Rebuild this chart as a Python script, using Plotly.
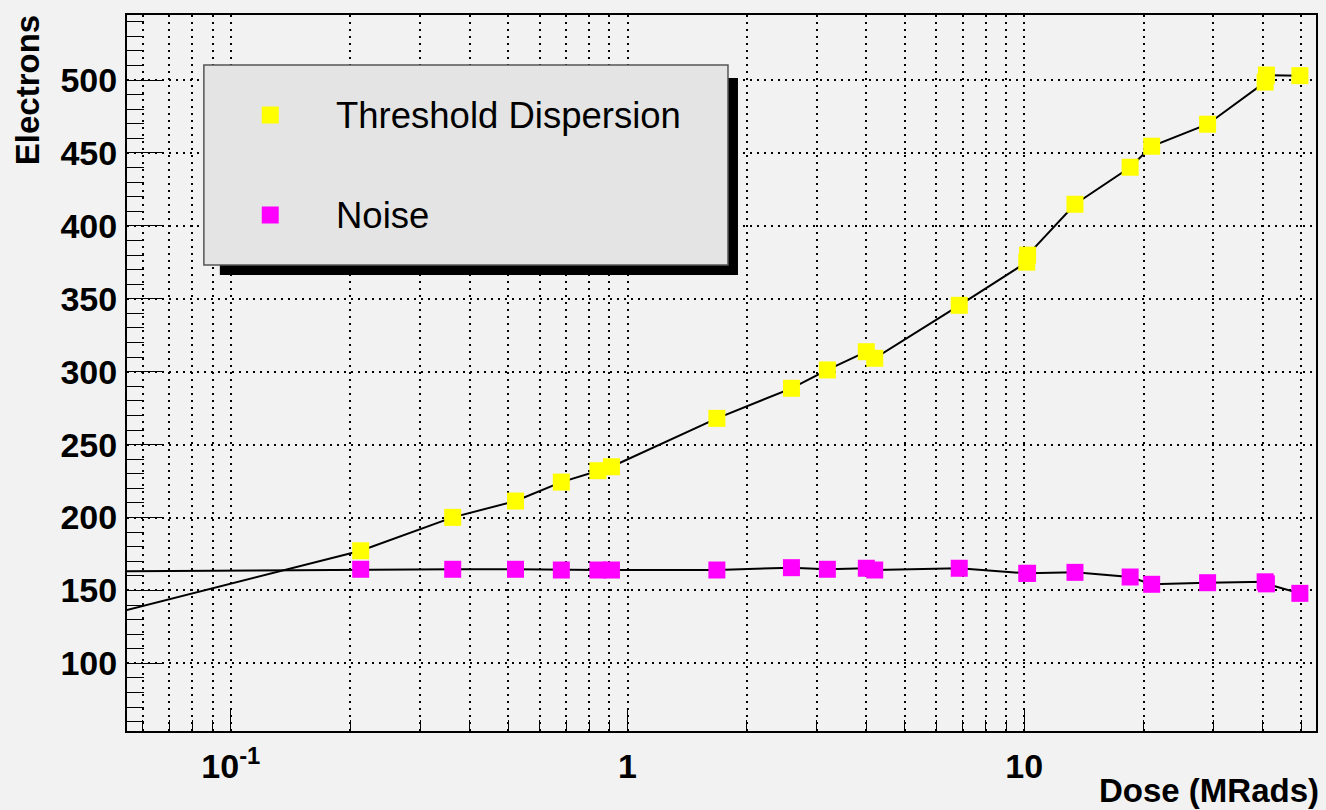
import plotly.graph_objects as go

# Irradiation campaign: dose steps (MRad) and measured values (electrons)
dose = [0.01, 0.2125, 0.3625, 0.522, 0.681, 0.842, 0.911, 1.68, 2.59, 3.19,
        4.0, 4.2, 6.86, 10.15, 10.2, 13.43, 18.5, 20.96, 29.0, 40.5, 40.8, 49.55]
threshold_dispersion = [85.6, 177.2, 200.1, 211.3, 224.3, 232.1, 234.8, 268.0, 288.6, 301.2,
                        313.7, 309.2, 345.5, 375.1, 379.9, 414.8, 440.2, 454.6, 469.7, 498.6, 503.4, 503.0]
noise = [161.8, 164.5, 164.5, 164.5, 164.0, 164.0, 164.0, 164.0, 165.6, 164.5,
         165.2, 164.0, 165.2, 161.7, 161.7, 162.4, 159.2, 154.2, 155.3, 155.9, 154.5, 148.0]

series_names = ["Threshold Dispersion", "Noise"]
series_colors = ["#ffff00", "#ff00ff"]

x_major = [0.1, 1, 10]
x_major_text = ["10<sup>-1</sup>", "1", "10"]
x_minor = [0.06, 0.07, 0.08, 0.09,
           0.2, 0.3, 0.4, 0.5, 0.6, 0.7, 0.8, 0.9,
           2, 3, 4, 5, 6, 7, 8, 9,
           20, 30, 40, 50]
y_major = [100, 150, 200, 250, 300, 350, 400, 450, 500]
y_minor = [v for v in range(60, 550, 10) if v not in y_major]

X_RANGE = [-1.2618, 1.7357]   # log10 of 0.0547 .. 54.4
Y_RANGE = [53.6, 544.6]

W, H = 1326, 810
L, R, T, B = 127, 8, 15, 79
PW, PH = W - L - R, H - T - B

BG = "#f2f2f2"
FONT = "Liberation Sans, Arial, Helvetica, sans-serif"


def fx(p):
    return (p - L) / PW


def fy(p):
    return (H - B - p) / PH


fig = go.Figure()
for name, vals, col in zip(series_names, [threshold_dispersion, noise], series_colors):
    fig.add_trace(go.Scatter(
        x=dose, y=vals, name=name, mode="lines+markers",
        line=dict(color="black", width=2),
        marker=dict(symbol="square", size=17, color=col, line=dict(width=0)),
        showlegend=False,
    ))

grid_dash = "2px,5px"
grid_w = 1.6

fig.update_xaxes(
    type="log", range=X_RANGE,
    tickmode="array", tickvals=x_major, ticktext=x_major_text,
    ticks="inside", ticklen=22, tickwidth=1.4, tickcolor="black",
    showgrid=True, gridcolor="black", gridwidth=grid_w, griddash=grid_dash,
    minor=dict(tickmode="array", tickvals=x_minor, ticks="inside", ticklen=11,
               tickwidth=1.4, tickcolor="black", showgrid=True,
               gridcolor="black", gridwidth=grid_w, griddash=grid_dash),
    showline=True, linecolor="black", linewidth=2, mirror=True,
    tickfont=dict(family=FONT, size=34, color="black", weight="bold"),
    ticklabelstandoff=4,
    zeroline=False,
)
fig.update_yaxes(
    range=Y_RANGE,
    tickmode="array", tickvals=y_major, ticktext=[str(v) for v in y_major],
    ticks="inside", ticklen=35, tickwidth=1.4, tickcolor="black",
    showgrid=True, gridcolor="black", gridwidth=grid_w, griddash=grid_dash,
    minor=dict(tickmode="array", tickvals=y_minor, ticks="inside", ticklen=17,
               tickwidth=1.4, tickcolor="black", showgrid=False),
    showline=True, linecolor="black", linewidth=2, mirror=True,
    tickfont=dict(family=FONT, size=34, color="black", weight="bold"),
    ticklabelstandoff=1,
    zeroline=False,
)

shapes = []
# legend shadow and box
shapes.append(dict(type="rect", xref="paper", yref="paper", layer="above",
                   x0=fx(220), x1=fx(739), y0=fy(275), y1=fy(78),
                   fillcolor="black", line=dict(width=0)))
shapes.append(dict(type="rect", xref="paper", yref="paper", layer="above",
                   x0=fx(204), x1=fx(729), y0=fy(265), y1=fy(65),
                   fillcolor="#e4e4e4", line=dict(color="#555555", width=1.5)))
annotations = []
for i, (name, col) in enumerate(zip(series_names, series_colors)):
    cy = 115 + 100 * i
    shapes.append(dict(type="rect", xref="paper", yref="paper", layer="above",
                       x0=fx(262), x1=fx(279), y0=fy(cy + 8.5), y1=fy(cy - 8.5),
                       fillcolor=col, line=dict(width=0)))
    annotations.append(dict(text=name, xref="paper", yref="paper",
                            x=fx(334), y=fy(cy), xanchor="left", yanchor="middle",
                            showarrow=False,
                            font=dict(family=FONT, size=36.5, color="black")))

annotations.append(dict(text="Dose (MRads)", xref="paper", yref="paper",
                        x=1.0, y=fy(790), xanchor="right", yanchor="middle",
                        xshift=5, showarrow=False,
                        font=dict(family=FONT, size=33, color="black", weight="bold")))
annotations.append(dict(text="Electrons", xref="paper", yref="paper",
                        x=fx(27), y=fy(90), xanchor="center", yanchor="middle",
                        textangle=-90, showarrow=False,
                        font=dict(family=FONT, size=33, color="black", weight="bold")))

fig.update_layout(
    width=W, height=H, autosize=False,
    margin=dict(l=L, r=R, t=T, b=B),
    paper_bgcolor=BG, plot_bgcolor=BG,
    shapes=shapes, annotations=annotations,
    showlegend=False,
)

fig.write_html("out.html", config={"displayModeBar": False})
